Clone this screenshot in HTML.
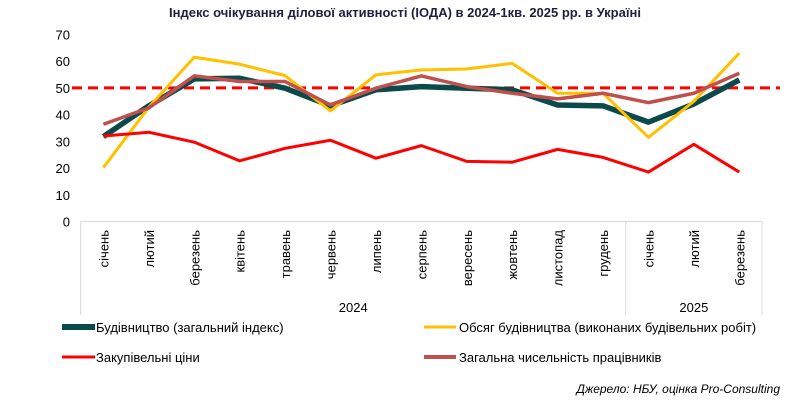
<!DOCTYPE html>
<html><head><meta charset="utf-8"><style>
body{margin:0;background:#fff;font-family:"Liberation Sans",Arial,sans-serif}
svg text{font-family:"Liberation Sans",Arial,sans-serif}
</style></head><body>
<svg width="810" height="401" viewBox="0 0 810 401" xmlns="http://www.w3.org/2000/svg">
<text x="405" y="17" text-anchor="middle" font-size="13" font-weight="bold" fill="#1f1f3f">Індекс очікування ділової активності (ІОДА) в 2024-1кв. 2025 рр. в Україні</text>
<g id="yaxis"></g>
<g id="xaxis"></g>
<g id="series"></g>
<g>
<g><line x1="62" y1="327" x2="95" y2="327" stroke="#0b4a4a" stroke-width="6"/><text x="96" y="332" font-size="13" fill="#000">Будівництво (загальний індекс)</text></g>
<g><line x1="424" y1="327" x2="456" y2="327" stroke="#ffc000" stroke-width="3"/><text x="459" y="332" font-size="13" fill="#000">Обсяг будівництва (виконаних будівельних робіт)</text></g>
<g><line x1="62" y1="357" x2="95" y2="357" stroke="#ff0000" stroke-width="3"/><text x="96" y="362" font-size="13" fill="#000">Закупівельні ціни</text></g>
<g><line x1="424" y1="357" x2="456" y2="357" stroke="#c0504d" stroke-width="4"/><text x="459" y="362" font-size="13" fill="#000">Загальна чисельність працівників</text></g>
</g>
<text x="780" y="393" text-anchor="end" font-size="12" font-style="italic" fill="#000">Джерело: НБУ, оцінка Pro-Consulting</text>
</svg>
<script>
const months=["січень","лютий","березень","квітень","травень","червень","липень","серпень","вересень","жовтень","листопад","грудень","січень","лютий","березень"];
const yTicks=[0,10,20,30,40,50,60,70];
const construction=[31.8,43.3,53.4,53.6,49.9,43.3,49.3,50.5,49.9,49.3,43.6,43.3,37.2,44,53];
const volume=[20.2,42.8,61.5,58.9,54.6,41.4,54.9,56.7,57.1,59.2,48,48,31.5,45,63];
const prices=[32,33.4,29.7,22.7,27.4,30.4,23.7,28.4,22.5,22.2,27,24,18.5,28.9,18.5];
const employees=[36.4,42.5,54.5,52.4,52.4,43.6,49.9,54.5,50.5,48,45.9,48,44.5,48,55.5];
const threshold=50;
const NS="http://www.w3.org/2000/svg";
const x0=80.7,x1=762,y0=221.5,yTop=34.5;
const X=i=>x0+(x1-x0)*(i+0.5)/months.length;
const Y=v=>y0-(y0-yTop)*v/70;
function mk(t,a,p){const e=document.createElementNS(NS,t);for(const k in a)e.setAttribute(k,a[k]);p.appendChild(e);return e;}
const ya=document.getElementById('yaxis');
yTicks.forEach(v=>{const t=mk('text',{x:70,y:Y(v)+5,'text-anchor':'end','font-size':13,fill:'#000'},ya);t.textContent=v;

});
const xa=document.getElementById('xaxis');
mk('line',{x1:x0,y1:y0,x2:x1,y2:y0,stroke:'#d9d9d9','stroke-width':1},xa);
[x0,X(11.5),x1].forEach(x=>mk('line',{x1:x,y1:y0,x2:x,y2:315,stroke:'#d9d9d9','stroke-width':1},xa));
months.forEach((m,i)=>{const t=mk('text',{transform:`translate(${X(i)+5},230) rotate(-90)`,'text-anchor':'end','font-size':13,fill:'#000'},xa);t.textContent=m;

});
[["2024",X(5.5)],["2025",X(13)]].forEach(([s,x])=>{const t=mk('text',{x:x,y:312,'text-anchor':'middle','font-size':13,fill:'#000'},xa);t.textContent=s;

});
const sg=document.getElementById('series');
const th=mk('line',{x1:72,y1:Y(threshold),x2:780,y2:Y(threshold),stroke:'#ff0000','stroke-width':3,'stroke-dasharray':'10,6'},sg);


function line(d,c,w,name){const p=mk('polyline',{points:d.map((v,i)=>X(i)+','+Y(v)).join(' '),fill:'none',stroke:c,'stroke-width':w,'stroke-linejoin':'round'},sg);

}
line(construction,'#0b4a4a',5.5,'construction-line');
line(volume,'#ffc000',3,'volume-line');
line(prices,'#ff0000',3,'prices-line');
line(employees,'#c0504d',3.5,'employees-line');
</script>
</body></html>
